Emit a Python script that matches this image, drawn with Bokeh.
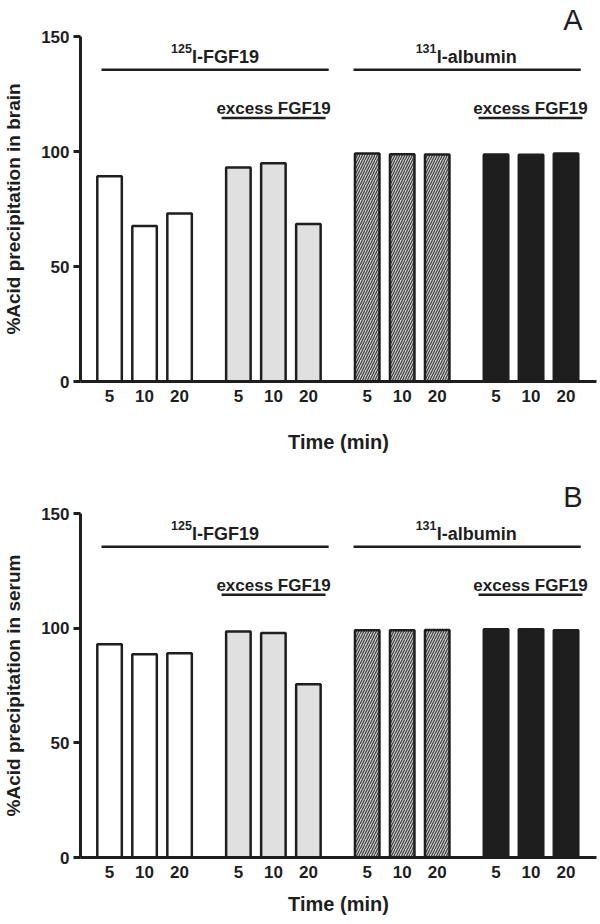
from bokeh.plotting import figure
from bokeh.layouts import column
from bokeh.models import Range1d, FixedTicker, ColumnDataSource, Title
from bokeh.core.properties import value
from bokeh.embed import file_html
from bokeh.resources import INLINE

# ---- data ----
times = ["5", "10", "20"]
brain_fgf19 = [89.2, 67.6, 73.0]
brain_fgf19_excess = [93.0, 94.9, 68.5]
brain_albumin = [99.1, 98.8, 98.7]
brain_albumin_excess = [98.7, 98.6, 99.1]
serum_fgf19 = [93.0, 88.6, 89.1]
serum_fgf19_excess = [98.5, 97.9, 75.5]
serum_albumin = [99.1, 99.1, 99.2]
serum_albumin_excess = [99.5, 99.5, 99.1]
y_ticks = [0, 50, 100, 150]
tracer_labels = [("125", "I-FGF19"), ("131", "I-albumin")]
excess_label = "excess FGF19"

FONT = "Liberation Sans"
INK = "#1e1e1e"
STEP = 3.68
BAR_W = 0.7


def xpos(g, i):
    return round(g * STEP + i, 3)


styles = [
    dict(fill_color="white"),
    dict(fill_color="#e0e0e0"),
    dict(fill_color="#d0d0d0", hatch_pattern="right_diagonal_line",
         hatch_color="#3c3c3c", hatch_scale=5, hatch_weight=1.2),
    dict(fill_color=INK),
]


def make_panel(series, ylabel, letter, top_border, frame_h, bottom_border,
               xlabel_standoff, left_border, right_border, ylabel_standoff):
    p = figure(frame_width=516, frame_height=frame_h,
               x_range=Range1d(-0.83, 13.91), y_range=Range1d(0, 150),
               output_backend="svg", toolbar_location=None,
               min_border_top=top_border, min_border_left=left_border,
               min_border_right=right_border, min_border_bottom=bottom_border)
    p.outline_line_color = None
    p.grid.visible = False
    p.background_fill_color = "white"
    p.border_fill_color = "white"

    t = Title(text=letter, align="right", text_font=FONT, text_font_size="29px",
              text_font_style="normal", text_color=INK, standoff=2,
              text_line_height=0.9, offset=14)
    p.add_layout(t, "above")

    all_x = []
    overrides = {}
    for g, vals in enumerate(series):
        xs = [xpos(g, i) for i in range(len(vals))]
        all_x += xs
        for xv, tl in zip(xs, times):
            overrides[xv] = tl
        src = ColumnDataSource(dict(x=xs, top=vals))
        p.vbar(x="x", top="top", bottom=0, width=BAR_W, source=src,
               line_color=INK, line_width=2.5, **styles[g])

    # annotation lines
    line_y, text_y = 135.5, 141.2
    ex_line_y, ex_text_y = 114.6, 118.6
    spans = [(xpos(0, 0) - 0.23, xpos(1, 2) + 0.58),
             (xpos(2, 0) - 0.39, xpos(3, 2) + 0.42)]
    ex_spans = [(xpos(1, 0) - 0.48, xpos(1, 2) + 0.49),
                (xpos(3, 0) - 0.5, xpos(3, 2) + 0.47)]
    p.segment(x0=[s[0] for s in spans] + [s[0] for s in ex_spans],
              x1=[s[1] for s in spans] + [s[1] for s in ex_spans],
              y0=[line_y] * 2 + [ex_line_y] * 2,
              y1=[line_y] * 2 + [ex_line_y] * 2,
              line_color=INK, line_width=2.5)

    widths = [(21.0, 67.0), (21.0, 82.0)]
    for (s0, s1), (sup, main), (ws, wm) in zip(spans, tracer_labels, widths):
        xc = (s0 + s1) / 2
        tot = ws + wm
        p.text(x=[xc], y=[text_y], text=[sup], text_font=value(FONT),
               text_font_style="bold", text_font_size="12.5px", text_color=INK,
               text_align="left", text_baseline="alphabetic",
               x_offset=-tot / 2, y_offset=-8)
        p.text(x=[xc], y=[text_y], text=[main], text_font=value(FONT),
               text_font_style="bold", text_font_size="18px", text_color=INK,
               text_align="left", text_baseline="alphabetic",
               x_offset=-tot / 2 + ws)
    p.text(x=[(s0 + s1) / 2 for s0, s1 in ex_spans], y=[ex_text_y] * 2,
           text=[excess_label] * 2, text_font=value(FONT),
           text_font_style="bold", text_font_size="17px", text_color=INK,
           text_align="center", text_baseline="alphabetic")

    # axes
    for ax in (p.xaxis[0], p.yaxis[0]):
        ax.axis_line_width = 3
        ax.axis_line_color = INK
        ax.major_label_text_font = FONT
        ax.major_label_text_font_style = "bold"
        ax.major_label_text_font_size = "17px"
        ax.major_label_text_color = INK
        ax.axis_label_text_font = FONT
        ax.axis_label_text_font_style = "bold"
        ax.axis_label_text_color = INK
        ax.minor_tick_line_color = None

    xa = p.xaxis[0]
    xa.ticker = FixedTicker(ticks=all_x, minor_ticks=[])
    xa.major_label_overrides = overrides
    xa.major_tick_line_color = None
    xa.major_tick_out = 0
    xa.major_tick_in = 0
    xa.major_label_standoff = 8
    xa.axis_label = "Time (min)"
    xa.axis_label_text_font_size = "20px"
    xa.axis_label_standoff = xlabel_standoff

    ya = p.yaxis[0]
    ya.ticker = FixedTicker(ticks=y_ticks, minor_ticks=[])
    ya.major_tick_out = 7
    ya.major_tick_in = 0
    ya.major_tick_line_width = 3
    ya.major_tick_line_color = INK
    ya.major_label_standoff = 4
    ya.axis_label = ylabel
    ya.axis_label_text_font_size = "19px"
    ya.axis_label_standoff = ylabel_standoff
    return p


p1 = make_panel([brain_fgf19, brain_fgf19_excess, brain_albumin, brain_albumin_excess],
                "%Acid precipitation in brain", "A", 28, 345, 83, 26, 72, 2, 14)
p2 = make_panel([serum_fgf19, serum_fgf19_excess, serum_albumin, serum_albumin_excess],
                "%Acid precipitation in serum", "B", 49, 344, 59, 12, 72, 2, 14)

layout = column(p1, p2, spacing=0)
open("out.html", "w").write(file_html(layout, INLINE))
